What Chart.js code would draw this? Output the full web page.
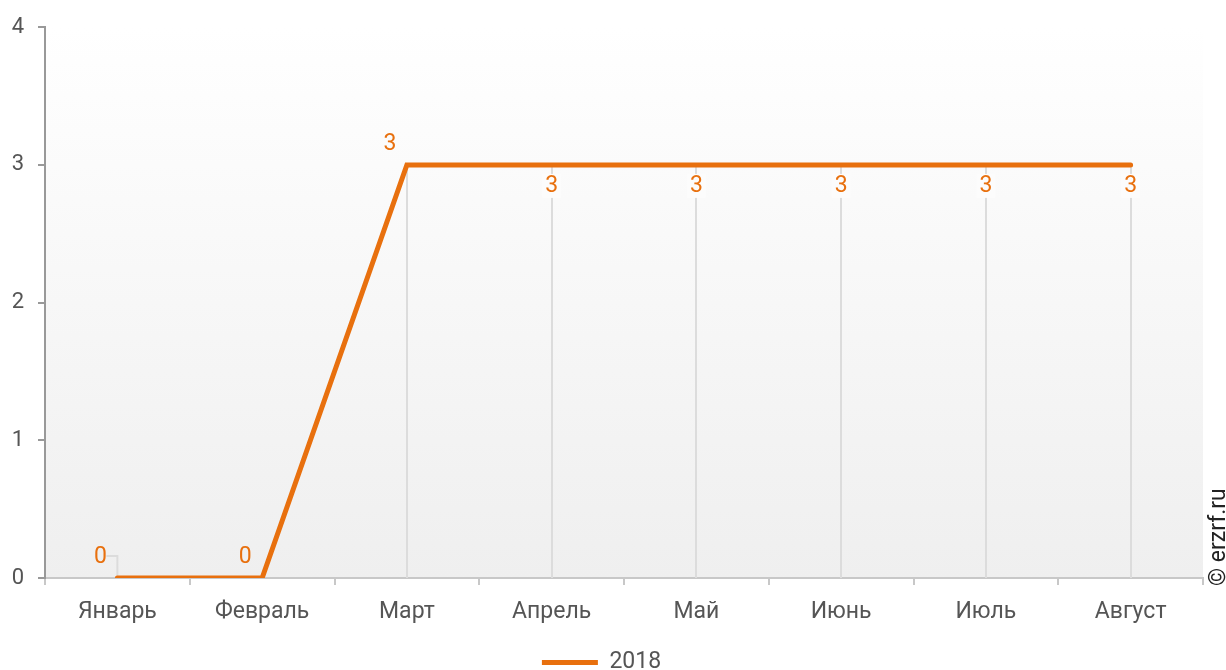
<!DOCTYPE html>
<html>
<head>
<meta charset="utf-8">
<script src="https://cdn.jsdelivr.net/npm/chart.js@4.4.0/dist/chart.umd.min.js"></script>
<style>
  html, body { margin: 0; padding: 0; background: #fff; }
</style>
</head>
<body>
<canvas id="chart" width="1226" height="670"></canvas>
<script>
var months = ["Январь", "Февраль", "Март", "Апрель", "Май", "Июнь", "Июль", "Август"];
var values2018 = [0, 0, 3, 3, 3, 3, 3, 3];
var seriesName = "2018";
var yTicks = [0, 1, 2, 3, 4];

var orange = "#E8700E";
var textGrey = "#555";
// where each value label sits relative to its point
var labelSide = ["above-left", "above-left", "above-left", "below", "below", "below", "below", "below"];

var backgroundPlugin = {
	id: "bgGradient",
	beforeDraw: function (chart) {
		var a = chart.chartArea, c = chart.ctx;
		var g = c.createLinearGradient(0, a.top, 0, a.bottom);
		g.addColorStop(0, "#ffffff");
		g.addColorStop(1, "#efefef");
		c.save();
		c.fillStyle = g;
		c.fillRect(a.left, a.top, a.right - a.left, a.bottom - a.top);
		c.restore();
	}
};

var dropLinePlugin = {
	id: "dropLines",
	beforeDatasetsDraw: function (chart) {
		var c = chart.ctx, bottom = chart.chartArea.bottom;
		var pts = chart.getDatasetMeta(0).data;
		c.save();
		c.strokeStyle = "#dcdcdc";
		c.lineWidth = 2;
		pts.forEach(function (p) {
			c.beginPath();
			c.moveTo(Math.round(p.x), p.y);
			c.lineTo(Math.round(p.x), bottom);
			c.stroke();
		});
		// leader from the first label down to its point
		var p0 = pts[0];
		c.beginPath();
		c.moveTo(p0.x - 11, p0.y - 22);
		c.lineTo(p0.x, p0.y - 22);
		c.lineTo(p0.x, bottom);
		c.stroke();
		c.restore();
	}
};

var valueLabelPlugin = {
	id: "valueLabels",
	afterDatasetsDraw: function (chart) {
		var c = chart.ctx;
		var pts = chart.getDatasetMeta(0).data;
		var vals = chart.data.datasets[0].data;
		c.save();
		c.font = "23px Roboto";
		c.textAlign = "center";
		c.textBaseline = "middle";
		pts.forEach(function (p, i) {
			var txt = String(vals[i]);
			var x = p.x, y = p.y;
			if (labelSide[i] === "below") {
				y = p.y + 21;
				var w = c.measureText(txt).width + 6;
				c.fillStyle = "#fcfcfc";
				c.fillRect(x - w / 2, y - 12, w, 24);
			} else {
				x = p.x - 17;
				y = p.y - 21;
			}
			c.fillStyle = orange;
			c.fillText(txt, x, y);
		});
		c.restore();
	}
};

var watermarkPlugin = {
	id: "watermark",
	afterDraw: function (chart) {
		var c = chart.ctx;
		c.save();
		c.translate(1219, 586);
		c.rotate(-Math.PI / 2);
		c.font = "23px Roboto";
		c.fillStyle = "#222";
		c.textAlign = "left";
		c.textBaseline = "middle";
		c.fillText("© erzrf.ru", 0, 0);
		c.restore();
	}
};

var data = {
	labels: months,
	datasets: [
		{
			label: seriesName,
			data: values2018,
			borderColor: orange,
			backgroundColor: orange,
			borderWidth: 5,
			borderCapStyle: "round",
			pointRadius: 0,
			pointHoverRadius: 0,
			tension: 0,
			fill: false
		}
	]
};

var options = {
	responsive: false,
	animation: false,
	devicePixelRatio: 1,
	layout: { padding: { top: 27, right: 23, left: 0, bottom: -14 } },
	plugins: {
		tooltip: { enabled: false },
		legend: {
			display: true,
			position: "bottom",
			labels: {
				usePointStyle: true,
				pointStyle: "line",
				pointStyleWidth: 56,
				color: textGrey,
				font: { family: "Roboto", size: 23 },
				padding: 4
			}
		}
	},
	scales: {
		x: {
			offset: true,
			afterFit: function (axis) { axis.height = 69; },
			grid: { display: true, offset: true, drawOnChartArea: false, color: "#c8c8c8", tickLength: 7, lineWidth: 2 },
			border: { color: "#c8c8c8", width: 2 },
			ticks: { color: textGrey, font: { family: "Roboto", size: 23 }, padding: 13, maxRotation: 0, autoSkip: false }
		},
		y: {
			min: 0,
			max: 4,
			afterBuildTicks: function (axis) {
				axis.ticks = yTicks.map(function (v) { return { value: v }; });
			},
			afterFit: function (axis) { axis.width = 45; },
			grid: { display: true, drawOnChartArea: false, color: "#999", tickLength: 7, lineWidth: 2 },
			border: { color: "#999", width: 2 },
			ticks: { color: textGrey, font: { family: "Roboto", size: 22 }, padding: 14 }
		}
	}
};

var chart = new Chart(document.getElementById("chart"), {
	type: "line",
	data: data,
	options: options,
	plugins: [backgroundPlugin, dropLinePlugin, valueLabelPlugin, watermarkPlugin]
});
</script>
</body>
</html>
